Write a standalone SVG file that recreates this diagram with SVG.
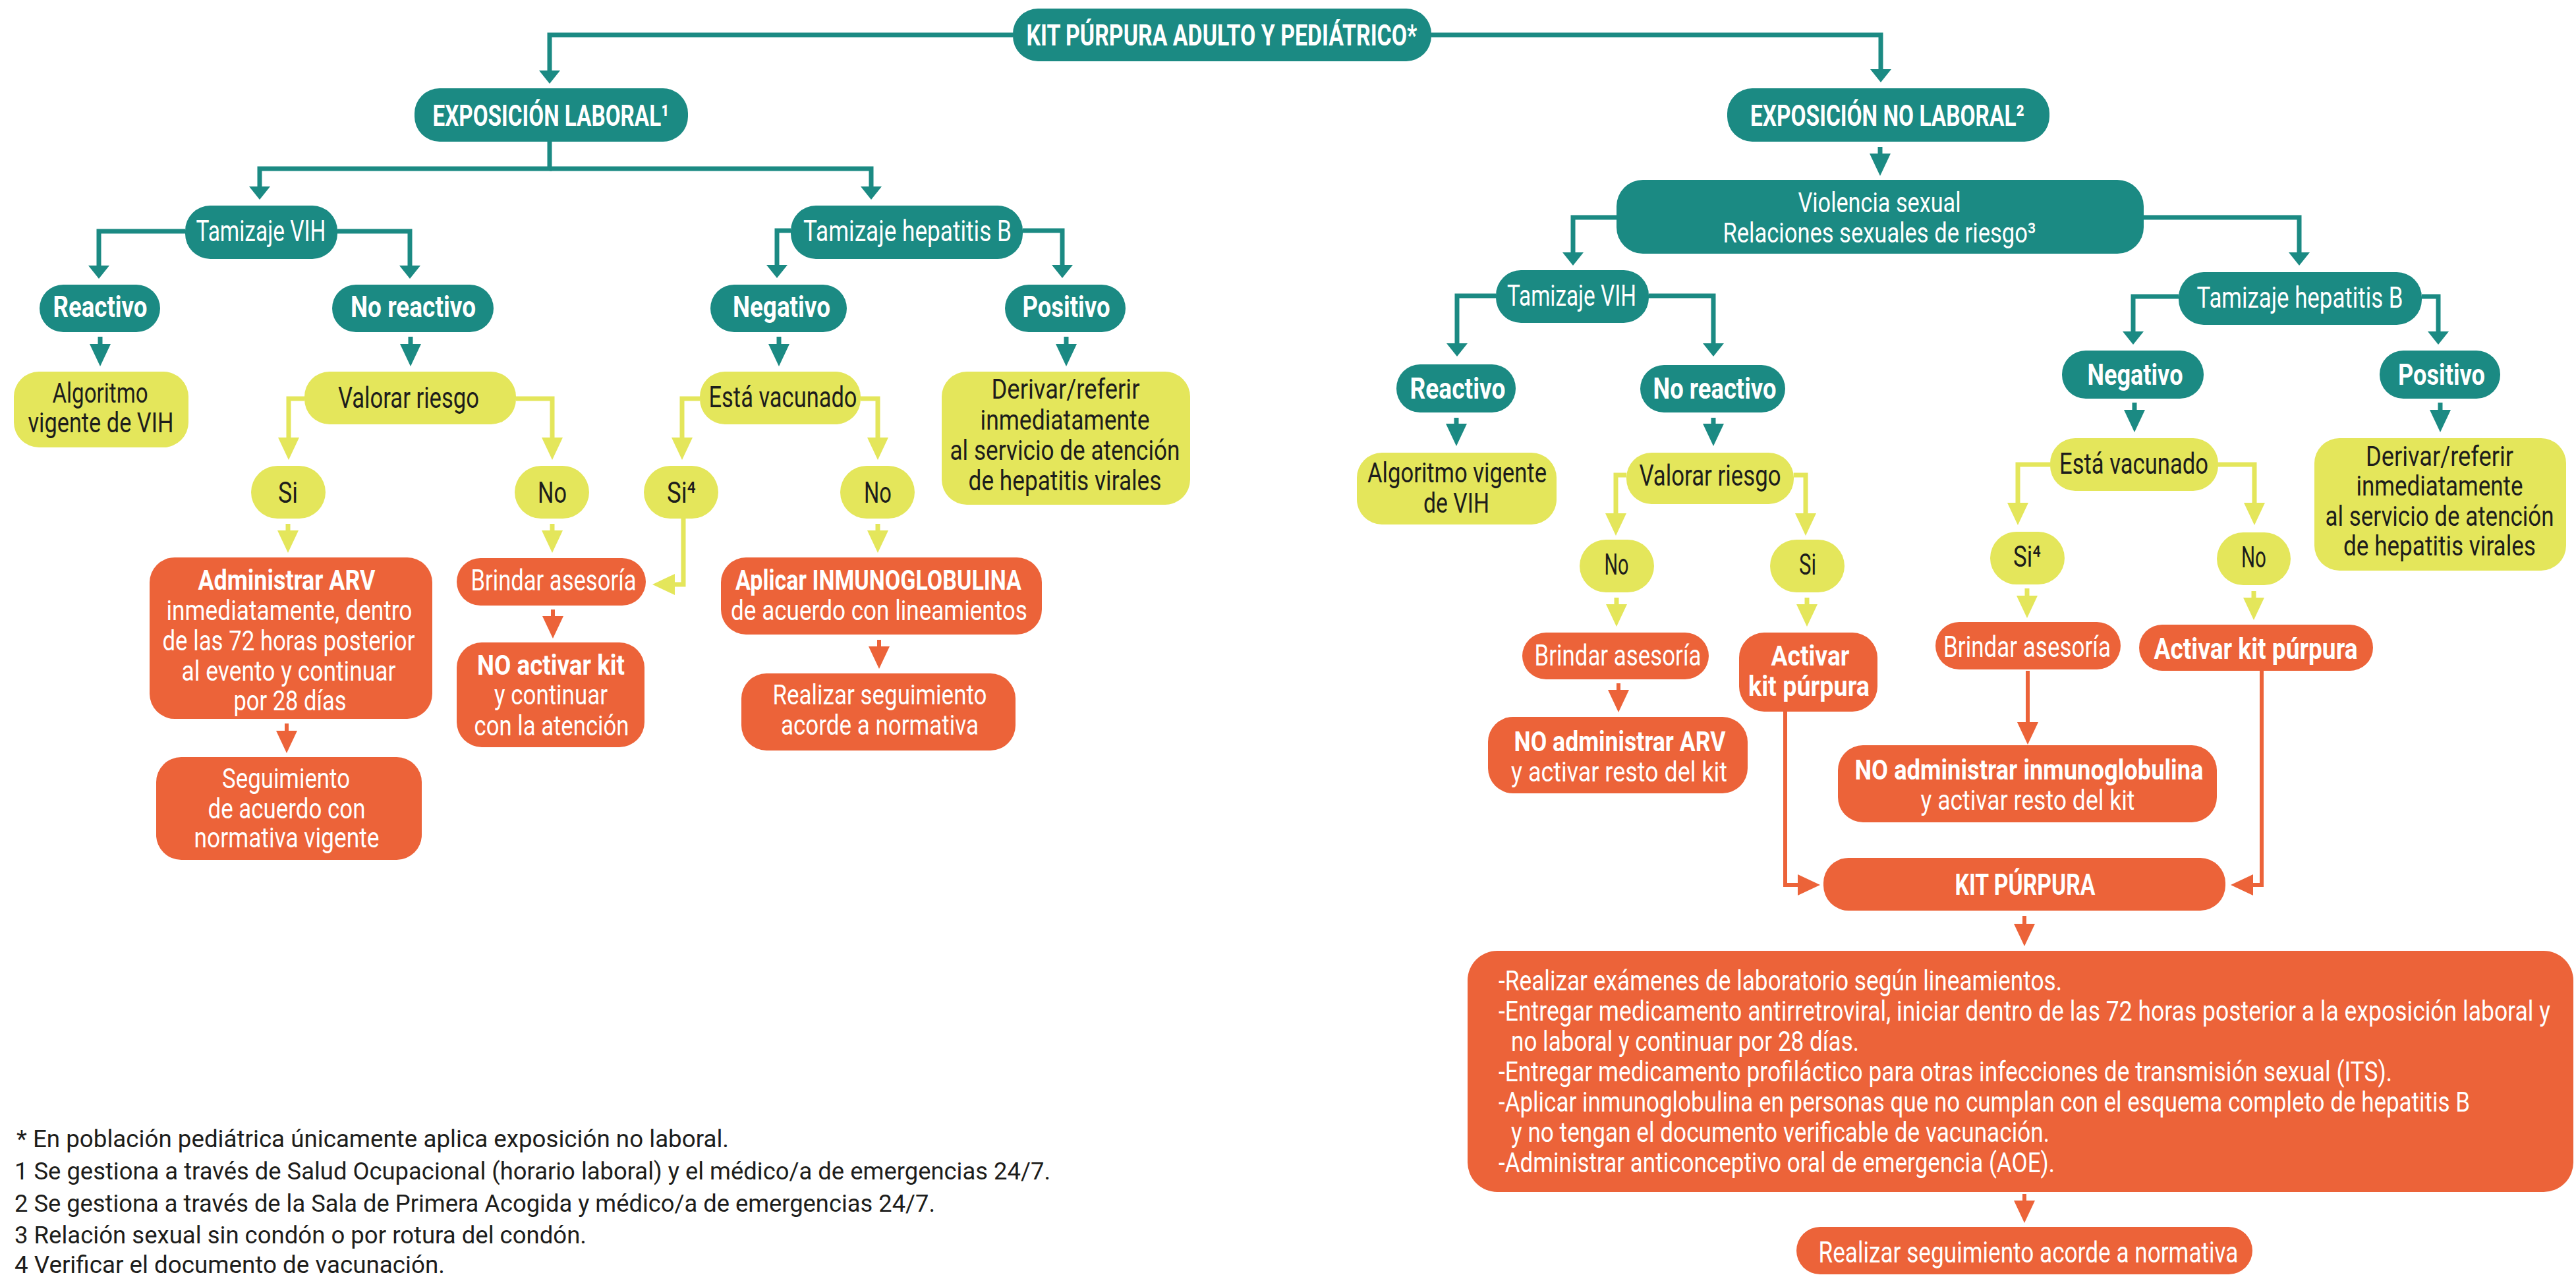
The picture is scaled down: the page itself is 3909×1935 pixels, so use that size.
<svg xmlns="http://www.w3.org/2000/svg" width="3909" height="1935" viewBox="0 0 3909 1935">
<style>
text{font-family:"Roboto","Liberation Sans",sans-serif;font-size:45px;text-anchor:middle}
.m{font-size:42px}
.w{fill:#ffffff}
.d{fill:#1d1d1b}
.b{font-weight:700}
.teal{fill:#1b8a83}
.yel{fill:#e4e65b}
.ora{fill:#ec6339}
.ct{fill:none;stroke:#1b8a83;stroke-width:7}
.cy{fill:none;stroke:#e4e65b;stroke-width:7}
.co{fill:none;stroke:#ec6339;stroke-width:6}
.foot{fill:#1d1d1b;font-size:37px;text-anchor:start}
.list{fill:#ffffff;font-size:42px;text-anchor:start}
</style>
<defs>
<marker id="tl" markerUnits="userSpaceOnUse" markerWidth="34" markerHeight="32" refX="0" refY="16" orient="auto"><path d="M0,0 L34,16 L0,32 Z" fill="#1b8a83"/></marker>
<marker id="ts" markerUnits="userSpaceOnUse" markerWidth="20" markerHeight="32" refX="0" refY="16" orient="auto"><path d="M0,0 L20,16 L0,32 Z" fill="#1b8a83"/></marker>
<marker id="yl" markerUnits="userSpaceOnUse" markerWidth="34" markerHeight="32" refX="0" refY="16" orient="auto"><path d="M0,0 L34,16 L0,32 Z" fill="#e4e65b"/></marker>
<marker id="ol" markerUnits="userSpaceOnUse" markerWidth="34" markerHeight="32" refX="0" refY="16" orient="auto"><path d="M0,0 L34,16 L0,32 Z" fill="#ec6339"/></marker>
</defs>

<g id="connectors">
<path class="ct" marker-end="url(#ts)" d="M1537,53 H834 V107"/>
<path class="ct" marker-end="url(#ts)" d="M2172,53 H2854 V105"/>
<path class="ct" marker-end="url(#ts)" d="M834,215 V256 H394 V283"/>
<path class="ct" marker-end="url(#ts)" d="M834,256 H1322 V283"/>
<path class="ct" marker-end="url(#tl)" d="M2853,223 V233"/>
<path class="ct" marker-end="url(#ts)" d="M2453,330 H2387 V383"/>
<path class="ct" marker-end="url(#ts)" d="M3253,330 H3489 V383"/>
<path class="ct" marker-end="url(#ts)" d="M281,351 H150 V403"/>
<path class="ct" marker-end="url(#ts)" d="M512,351 H622 V403"/>
<path class="ct" marker-end="url(#ts)" d="M1200,350 H1179 V402"/>
<path class="ct" marker-end="url(#ts)" d="M1552,350 H1612 V402"/>
<path class="ct" marker-end="url(#ts)" d="M2270,449 H2211 V521"/>
<path class="ct" marker-end="url(#ts)" d="M2502,449 H2600 V521"/>
<path class="ct" marker-end="url(#ts)" d="M3306,450 H3237 V503"/>
<path class="ct" marker-end="url(#ts)" d="M3675,450 H3700 V503"/>
<path class="ct" marker-end="url(#tl)" d="M152,511 V522"/>
<path class="ct" marker-end="url(#tl)" d="M623,511 V522"/>
<path class="ct" marker-end="url(#tl)" d="M1182,511 V522"/>
<path class="ct" marker-end="url(#tl)" d="M1618,511 V522"/>
<path class="ct" marker-end="url(#tl)" d="M2210,634 V643"/>
<path class="ct" marker-end="url(#tl)" d="M2600,634 V643"/>
<path class="ct" marker-end="url(#tl)" d="M3239,611 V622"/>
<path class="ct" marker-end="url(#tl)" d="M3703,611 V622"/>

<path class="cy" marker-end="url(#yl)" d="M462,605 H438 V664"/>
<path class="cy" marker-end="url(#yl)" d="M783,605 H838 V664"/>
<path class="cy" marker-end="url(#yl)" d="M1062,605 H1035 V664"/>
<path class="cy" marker-end="url(#yl)" d="M1306,605 H1332 V664"/>
<path class="cy" marker-end="url(#yl)" d="M2468,721 H2452 V779"/>
<path class="cy" marker-end="url(#yl)" d="M2722,721 H2740 V779"/>
<path class="cy" marker-end="url(#yl)" d="M3111,705 H3062 V763"/>
<path class="cy" marker-end="url(#yl)" d="M3366,705 H3421 V763"/>
<path class="cy" marker-end="url(#yl)" d="M437,795 V805"/>
<path class="cy" marker-end="url(#yl)" d="M838,795 V805"/>
<path class="cy" marker-end="url(#yl)" d="M1332,795 V805"/>
<path class="cy" marker-end="url(#yl)" d="M1037,787 V887 H1024"/>
<path class="cy" marker-end="url(#yl)" d="M2453,907 V917"/>
<path class="cy" marker-end="url(#yl)" d="M2742,907 V917"/>
<path class="cy" marker-end="url(#yl)" d="M3076,893 V904"/>
<path class="cy" marker-end="url(#yl)" d="M3420,897 V907"/>

<path class="co" marker-end="url(#ol)" d="M435,1098 V1109"/>
<path class="co" marker-end="url(#ol)" d="M839,925 V935"/>
<path class="co" marker-end="url(#ol)" d="M1334,971 V981"/>
<path class="co" marker-end="url(#ol)" d="M2456,1037 V1047"/>
<path class="co" marker-end="url(#ol)" d="M3077,1018 V1096"/>
<path class="co" marker-end="url(#ol)" d="M2709,1080 V1343 H2728"/>
<path class="co" marker-end="url(#ol)" d="M3432,1018 V1343 H3419"/>
<path class="co" marker-end="url(#ol)" d="M3072,1390 V1402"/>
<path class="co" marker-end="url(#ol)" d="M3072,1812 V1822"/>
</g>

<g id="n-top"><rect class="teal" x="1537" y="13" width="635" height="80" rx="38"/><text class="w b" x="1854" y="69" font-size="48" textLength="593" lengthAdjust="spacingAndGlyphs">KIT PÚRPURA ADULTO Y PEDIÁTRICO*</text></g>
<g id="n-exp-laboral"><rect class="teal" x="629" y="134" width="415" height="81" rx="38"/><text class="w b" x="836" y="191" textLength="359" lengthAdjust="spacingAndGlyphs">EXPOSICIÓN LABORAL¹</text></g>
<g id="n-exp-nolaboral"><rect class="teal" x="2621" y="134" width="489" height="81" rx="38"/><text class="w b" x="2864" y="191" textLength="416" lengthAdjust="spacingAndGlyphs">EXPOSICIÓN NO LABORAL²</text></g>
<g id="n-violencia"><rect class="teal" x="2453" y="273" width="800" height="112" rx="40"/><text class="w m" x="2852" y="322" textLength="247" lengthAdjust="spacingAndGlyphs">Violencia sexual</text><text class="w m" x="2852" y="368" textLength="475" lengthAdjust="spacingAndGlyphs">Relaciones sexuales de riesgo³</text></g>

<g id="n-tam-vih-l"><rect class="teal" x="281" y="312" width="231" height="81" rx="38"/><text class="w" x="396" y="366" textLength="197" lengthAdjust="spacingAndGlyphs">Tamizaje VIH</text></g>
<g id="n-tam-hb-l"><rect class="teal" x="1200" y="312" width="352" height="81" rx="38"/><text class="w" x="1377" y="366" textLength="316" lengthAdjust="spacingAndGlyphs">Tamizaje hepatitis B</text></g>
<g id="n-tam-vih-r"><rect class="teal" x="2270" y="410" width="232" height="80" rx="38"/><text class="w" x="2385" y="464" textLength="196" lengthAdjust="spacingAndGlyphs">Tamizaje VIH</text></g>
<g id="n-tam-hb-r"><rect class="teal" x="3306" y="413" width="369" height="80" rx="38"/><text class="w" x="3490" y="467" textLength="313" lengthAdjust="spacingAndGlyphs">Tamizaje hepatitis B</text></g>

<g id="n-reactivo-l"><rect class="teal" x="60" y="432" width="183" height="72" rx="36"/><text class="w b" x="152" y="481" textLength="143" lengthAdjust="spacingAndGlyphs">Reactivo</text></g>
<g id="n-noreactivo-l"><rect class="teal" x="504" y="432" width="245" height="72" rx="36"/><text class="w b" x="627" y="481" textLength="190" lengthAdjust="spacingAndGlyphs">No reactivo</text></g>
<g id="n-negativo-l"><rect class="teal" x="1078" y="432" width="207" height="72" rx="36"/><text class="w b" x="1186" y="481" textLength="148" lengthAdjust="spacingAndGlyphs">Negativo</text></g>
<g id="n-positivo-l"><rect class="teal" x="1525" y="432" width="183" height="72" rx="36"/><text class="w b" x="1618" y="481" textLength="133" lengthAdjust="spacingAndGlyphs">Positivo</text></g>
<g id="n-reactivo-r"><rect class="teal" x="2119" y="553" width="181" height="73" rx="36"/><text class="w b" x="2212" y="605" textLength="145" lengthAdjust="spacingAndGlyphs">Reactivo</text></g>
<g id="n-noreactivo-r"><rect class="teal" x="2489" y="554" width="220" height="72" rx="36"/><text class="w b" x="2602" y="605" textLength="187" lengthAdjust="spacingAndGlyphs">No reactivo</text></g>
<g id="n-negativo-r"><rect class="teal" x="3129" y="532" width="215" height="73" rx="36"/><text class="w b" x="3240" y="584" textLength="145" lengthAdjust="spacingAndGlyphs">Negativo</text></g>
<g id="n-positivo-r"><rect class="teal" x="3611" y="532" width="183" height="73" rx="36"/><text class="w b" x="3705" y="584" textLength="132" lengthAdjust="spacingAndGlyphs">Positivo</text></g>

<g id="n-algoritmo-l"><rect class="yel" x="21" y="564" width="265" height="115" rx="38"/><text class="d m" x="152" y="611" textLength="145" lengthAdjust="spacingAndGlyphs">Algoritmo</text><text class="d m" x="153" y="656" textLength="221" lengthAdjust="spacingAndGlyphs">vigente de VIH</text></g>
<g id="n-valorar-l"><rect class="yel" x="462" y="564" width="321" height="80" rx="38"/><text class="d" x="620" y="619" textLength="214" lengthAdjust="spacingAndGlyphs">Valorar riesgo</text></g>
<g id="n-vacunado-l"><rect class="yel" x="1062" y="564" width="244" height="80" rx="38"/><text class="d" x="1188" y="618" textLength="225" lengthAdjust="spacingAndGlyphs">Está vacunado</text></g>
<g id="n-derivar-l"><rect class="yel" x="1429" y="564" width="377" height="202" rx="38"/><text class="d m" x="1617" y="605" textLength="225" lengthAdjust="spacingAndGlyphs">Derivar/referir</text><text class="d m" x="1616" y="652" textLength="257" lengthAdjust="spacingAndGlyphs">inmediatamente</text><text class="d m" x="1616" y="698" textLength="349" lengthAdjust="spacingAndGlyphs">al servicio de atención</text><text class="d m" x="1616" y="744" textLength="293" lengthAdjust="spacingAndGlyphs">de hepatitis virales</text></g>
<g id="n-si-l"><rect class="yel" x="381" y="707" width="113" height="80" rx="40"/><text class="d" x="437" y="763" textLength="30" lengthAdjust="spacingAndGlyphs">Si</text></g>
<g id="n-no-l"><rect class="yel" x="781" y="707" width="113" height="80" rx="40"/><text class="d" x="838" y="763" textLength="44" lengthAdjust="spacingAndGlyphs">No</text></g>
<g id="n-si4-l"><rect class="yel" x="977" y="707" width="113" height="80" rx="40"/><text class="d" x="1034" y="763" textLength="44" lengthAdjust="spacingAndGlyphs">Si⁴</text></g>
<g id="n-no2-l"><rect class="yel" x="1275" y="707" width="113" height="80" rx="40"/><text class="d" x="1332" y="763" textLength="42" lengthAdjust="spacingAndGlyphs">No</text></g>

<g id="n-algoritmo-r"><rect class="yel" x="2059" y="687" width="303" height="109" rx="38"/><text class="d m" x="2211" y="732" textLength="272" lengthAdjust="spacingAndGlyphs">Algoritmo vigente</text><text class="d m" x="2210" y="778" textLength="100" lengthAdjust="spacingAndGlyphs">de VIH</text></g>
<g id="n-valorar-r"><rect class="yel" x="2468" y="687" width="254" height="78" rx="38"/><text class="d" x="2595" y="737" textLength="215" lengthAdjust="spacingAndGlyphs">Valorar riesgo</text></g>
<g id="n-vacunado-r"><rect class="yel" x="3111" y="665" width="255" height="80" rx="38"/><text class="d" x="3238" y="719" textLength="226" lengthAdjust="spacingAndGlyphs">Está vacunado</text></g>
<g id="n-derivar-r"><rect class="yel" x="3512" y="665" width="382" height="201" rx="38"/><text class="d m" x="3702" y="707" textLength="224" lengthAdjust="spacingAndGlyphs">Derivar/referir</text><text class="d m" x="3702" y="752" textLength="253" lengthAdjust="spacingAndGlyphs">inmediatamente</text><text class="d m" x="3702" y="798" textLength="347" lengthAdjust="spacingAndGlyphs">al servicio de atención</text><text class="d m" x="3702" y="843" textLength="292" lengthAdjust="spacingAndGlyphs">de hepatitis virales</text></g>
<g id="n-no-r"><rect class="yel" x="2397" y="819" width="113" height="80" rx="40"/><text class="d" x="2453" y="872" textLength="37" lengthAdjust="spacingAndGlyphs">No</text></g>
<g id="n-si-r"><rect class="yel" x="2686" y="819" width="113" height="80" rx="40"/><text class="d" x="2743" y="872" textLength="26" lengthAdjust="spacingAndGlyphs">Si</text></g>
<g id="n-si4-r"><rect class="yel" x="3020" y="807" width="113" height="80" rx="40"/><text class="d" x="3076" y="860" textLength="42" lengthAdjust="spacingAndGlyphs">Si⁴</text></g>
<g id="n-no2-r"><rect class="yel" x="3364" y="808" width="112" height="80" rx="40"/><text class="d" x="3420" y="861" textLength="38" lengthAdjust="spacingAndGlyphs">No</text></g>

<g id="n-administrar-arv"><rect class="ora" x="227" y="846" width="429" height="245" rx="38"/><text class="w b m" x="435" y="895" textLength="269" lengthAdjust="spacingAndGlyphs">Administrar ARV</text><text class="w m" x="439" y="941" textLength="373" lengthAdjust="spacingAndGlyphs">inmediatamente, dentro</text><text class="w m" x="438" y="987" textLength="383" lengthAdjust="spacingAndGlyphs">de las 72 horas posterior</text><text class="w m" x="438" y="1033" textLength="325" lengthAdjust="spacingAndGlyphs">al evento y continuar</text><text class="w m" x="440" y="1078" textLength="171" lengthAdjust="spacingAndGlyphs">por 28 días</text></g>
<g id="n-brindar-l"><rect class="ora" x="693" y="847" width="287" height="72" rx="36"/><text class="w" x="840" y="896" textLength="251" lengthAdjust="spacingAndGlyphs">Brindar asesoría</text></g>
<g id="n-aplicar"><rect class="ora" x="1094" y="846" width="487" height="117" rx="38"/><text class="w b m" x="1333" y="895" textLength="434" lengthAdjust="spacingAndGlyphs">Aplicar INMUNOGLOBULINA</text><text class="w m" x="1334" y="941" textLength="450" lengthAdjust="spacingAndGlyphs">de acuerdo con lineamientos</text></g>
<g id="n-seguimiento"><rect class="ora" x="237" y="1149" width="403" height="156" rx="38"/><text class="w m" x="434" y="1196" textLength="194" lengthAdjust="spacingAndGlyphs">Seguimiento</text><text class="w m" x="435" y="1242" textLength="239" lengthAdjust="spacingAndGlyphs">de acuerdo con</text><text class="w m" x="435" y="1286" textLength="281" lengthAdjust="spacingAndGlyphs">normativa vigente</text></g>
<g id="n-no-activar"><rect class="ora" x="693" y="975" width="285" height="159" rx="38"/><text class="w b m" x="836" y="1024" textLength="224" lengthAdjust="spacingAndGlyphs">NO activar kit</text><text class="w m" x="836" y="1069" textLength="172" lengthAdjust="spacingAndGlyphs">y continuar</text><text class="w m" x="837" y="1116" textLength="235" lengthAdjust="spacingAndGlyphs">con la atención</text></g>
<g id="n-realizar-l"><rect class="ora" x="1125" y="1022" width="416" height="117" rx="38"/><text class="w m" x="1335" y="1069" textLength="325" lengthAdjust="spacingAndGlyphs">Realizar seguimiento</text><text class="w m" x="1335" y="1115" textLength="300" lengthAdjust="spacingAndGlyphs">acorde a normativa</text></g>

<g id="n-brindar-r1"><rect class="ora" x="2310" y="960" width="283" height="71" rx="36"/><text class="w" x="2455" y="1010" textLength="253" lengthAdjust="spacingAndGlyphs">Brindar asesoría</text></g>
<g id="n-activar-r1"><rect class="ora" x="2639" y="960" width="210" height="120" rx="38"/><text class="w b m" x="2747" y="1010" textLength="119" lengthAdjust="spacingAndGlyphs">Activar</text><text class="w b m" x="2745" y="1056" textLength="184" lengthAdjust="spacingAndGlyphs">kit púrpura</text></g>
<g id="n-brindar-r2"><rect class="ora" x="2937" y="944" width="281" height="72" rx="36"/><text class="w" x="3076" y="997" textLength="254" lengthAdjust="spacingAndGlyphs">Brindar asesoría</text></g>
<g id="n-activar-r2"><rect class="ora" x="3246" y="948" width="355" height="70" rx="35"/><text class="w b" x="3423" y="1000" textLength="309" lengthAdjust="spacingAndGlyphs">Activar kit púrpura</text></g>
<g id="n-no-arv"><rect class="ora" x="2258" y="1088" width="394" height="116" rx="38"/><text class="w b m" x="2458" y="1140" textLength="321" lengthAdjust="spacingAndGlyphs">NO administrar ARV</text><text class="w m" x="2457" y="1186" textLength="328" lengthAdjust="spacingAndGlyphs">y activar resto del kit</text></g>
<g id="n-no-inmuno"><rect class="ora" x="2789" y="1131" width="575" height="117" rx="38"/><text class="w b m" x="3079" y="1183" textLength="529" lengthAdjust="spacingAndGlyphs">NO administrar inmunoglobulina</text><text class="w m" x="3077" y="1229" textLength="325" lengthAdjust="spacingAndGlyphs">y activar resto del kit</text></g>
<g id="n-kit"><rect class="ora" x="2767" y="1302" width="610" height="80" rx="38"/><text class="w b" x="3073" y="1358" textLength="213" lengthAdjust="spacingAndGlyphs">KIT PÚRPURA</text></g>
<g id="n-kit-detalle"><rect class="ora" x="2227" y="1443" width="1678" height="366" rx="45"/>
<text class="list" x="2274" y="1503" textLength="855" lengthAdjust="spacingAndGlyphs">-Realizar exámenes de laboratorio según lineamientos.</text>
<text class="list" x="2274" y="1549" textLength="1596" lengthAdjust="spacingAndGlyphs">-Entregar medicamento antirretroviral, iniciar dentro de las 72 horas posterior a la exposición laboral y</text>
<text class="list" x="2293" y="1595" textLength="528" lengthAdjust="spacingAndGlyphs">no laboral y continuar por 28 días.</text>
<text class="list" x="2274" y="1641" textLength="1356" lengthAdjust="spacingAndGlyphs">-Entregar medicamento profiláctico para otras infecciones de transmisión sexual (ITS).</text>
<text class="list" x="2274" y="1687" textLength="1474" lengthAdjust="spacingAndGlyphs">-Aplicar inmunoglobulina en personas que no cumplan con el esquema completo de hepatitis B</text>
<text class="list" x="2293" y="1733" textLength="817" lengthAdjust="spacingAndGlyphs">y no tengan el documento verificable de vacunación.</text>
<text class="list" x="2274" y="1779" textLength="844" lengthAdjust="spacingAndGlyphs">-Administrar anticonceptivo oral de emergencia (AOE).</text>
</g>
<g id="n-realizar-final"><rect class="ora" x="2726" y="1862" width="692" height="72" rx="36"/><text class="w" x="3078" y="1916" textLength="637" lengthAdjust="spacingAndGlyphs">Realizar seguimiento acorde a normativa</text></g>

<g id="footnotes">
<text class="foot" x="25" y="1741" textLength="1081" lengthAdjust="spacingAndGlyphs">* En población pediátrica únicamente aplica exposición no laboral.</text>
<text class="foot" x="22" y="1790" textLength="1572" lengthAdjust="spacingAndGlyphs">1  Se gestiona a través de Salud Ocupacional (horario laboral) y el médico/a de emergencias 24/7.</text>
<text class="foot" x="22" y="1839" textLength="1397" lengthAdjust="spacingAndGlyphs">2 Se gestiona a través de la Sala de Primera Acogida y médico/a de emergencias 24/7.</text>
<text class="foot" x="22" y="1887" textLength="868" lengthAdjust="spacingAndGlyphs">3 Relación sexual sin condón o por rotura del condón.</text>
<text class="foot" x="22" y="1932" textLength="653" lengthAdjust="spacingAndGlyphs">4 Verificar el documento de vacunación.</text>
</g>
</svg>
